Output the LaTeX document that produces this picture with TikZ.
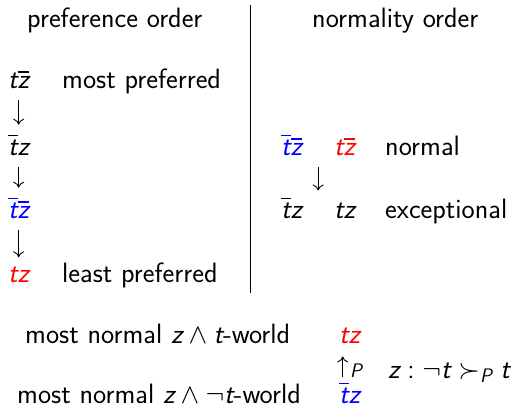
\RequirePackage{fix-cm}
\documentclass[tikz,border=0pt]{standalone}
\usepackage{amsmath}
\usepackage{amssymb}
\usepackage{tikz}
\usetikzlibrary{arrows.meta,calc}

% sans serif math, as on slides
\SetSymbolFont{letters}{normal}{TU}{lmss}{m}{sl}
\SetSymbolFont{operators}{normal}{TU}{lmss}{m}{n}

\tikzset{
  txt/.style={inner sep=0pt, anchor=base west},
  ordarrow/.style={-{To[length=6pt,width=11pt]}, line width=0.9pt, shorten <=12pt, shorten >=9pt}
}

\begin{document}
\begin{tikzpicture}[x=1pt,y=-1pt,font=\fontsize{28}{33}\selectfont\sffamily]
                \useasboundingbox (0,0) rectangle (517,408);

                % Titles
                \node[txt] (pt) at (27,27) {preference order};
                \node[txt] (nt) at (312,27) {normality order};

                % Preference order
                \node[txt] (p1) at (8,88) {$t\overline{z}$};
                \node[txt] (p1l) at (62,88) {most preferred};
                \node[txt] (p2) at (8,155) {$\overline{t}z$};
                \node[txt, text=blue] (p3) at (8,218) {$\overline{t}\overline{z}$};
                \node[txt, text=red] (p4) at (8,282) {$tz$};
                \node[txt] (p4l) at (62,282) {least preferred};

                % Separator
                \coordinate (vtop) at (250.5,5);
                \coordinate (vbot) at (250.5,293);
                \draw[line width=1.5pt] (vtop)--(vbot);

                % Normality order
                \node[txt, text=blue] (n1) at (281,155) {$\overline{t}\overline{z}$};
                \node[txt, text=red] (n2) at (334,155) {$t\overline{z}$};
                \node[txt] (n3) at (385,155) {normal};
                \node[txt] (e1) at (281,218) {$\overline{t}z$};
                \node[txt] (e2) at (334,218) {$tz$};
                \node[txt] (e3) at (385,218) {exceptional};

                % Most normal worlds
                \node[txt] (w1l) at (25,343) {most normal $z \wedge t$-world};
                \node[txt, text=red] (w1) at (339,343) {$tz$};
                \node[txt] (w2l) at (17,403) {most normal $z \wedge \neg t$-world};
                \node[txt, text=blue] (w2) at (339,403) {$\overline{t}z$};
                \node[txt] (pl) at (350,377) {$\scriptstyle P$};
                \node[txt] (rel) at (388,378) {$z : \neg t \succ_P t$};

                % Edges
                \draw[ordarrow] (p1)--(p2);
                \draw[ordarrow] (p2)--(p3);
                \draw[ordarrow] (p3)--(p4);
                \draw[ordarrow] ($(n1.south)!.5!(n2.south)$)--($(e1.north)!.5!(e2.north)$);
                \draw[ordarrow, shorten <=5pt, shorten >=13pt] ([xshift=-7pt]w2.north)--([xshift=-7pt]w1.south);
            \end{tikzpicture}
\end{document}
